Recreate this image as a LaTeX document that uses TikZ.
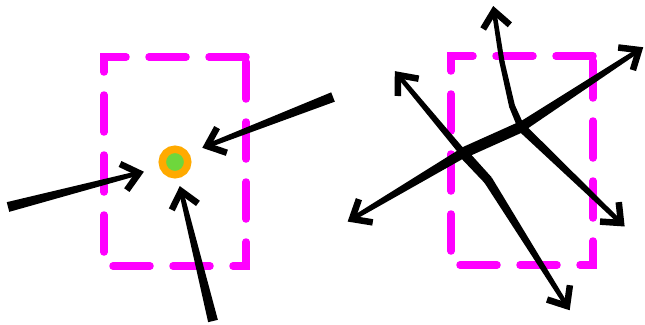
\documentclass[tikz,border=0pt]{standalone}
\usetikzlibrary{calc}
\definecolor{mag}{RGB}{255,0,255}
\definecolor{ringorange}{RGB}{255,170,0}
\definecolor{dotgreen}{RGB}{110,215,60}
\tikzset{
  framebox/.style={draw=mag, line width=7.5pt, line cap=round, line join=miter, dash pattern=on 37pt off 23pt},
  barbhead/.style={draw=black, line width=6.5pt, line join=miter, line cap=butt},
  shaft/.style={fill=black},
  target/.style={circle, draw=ringorange, fill=dotgreen, line width=7.5pt, minimum size=25.5pt, inner sep=0pt},
  hub/.style={fill=black},
}
\newcommand{\taperseg}[4]{\fill[shaft] ($(#1)!#3!90:(#2)$) -- ($(#2)!#4!-90:(#1)$) -- ($(#2)!#4!90:(#1)$) -- ($(#1)!#3!-90:(#2)$) -- cycle;}
\newcommand{\barbtip}[2]{\draw[barbhead] ($(#1)!21pt!40:(#2)$) -- (#1) -- ($(#1)!21pt!-40:(#2)$);}
\begin{document}
\begin{tikzpicture}[x=1pt,y=-1pt]
\useasboundingbox (0,0) rectangle (645,324);
% left panel
\draw[framebox] (246,57) -- (104,57) -- (104,266) -- (246,266) -- cycle;
\node[target] (dot) at (175,162) {};
\coordinate (l1t) at (8,207);
\coordinate (l1h) at (139,173);
\coordinate (l2t) at (333,97);
\coordinate (l2h) at (207,146);
\coordinate (l3t) at (213,321);
\coordinate (l3h) at (181,191);
\taperseg{l1t}{l1h}{5pt}{2.2pt}
\barbtip{l1h}{l1t}
\taperseg{l2t}{l2h}{5pt}{2.2pt}
\barbtip{l2h}{l2t}
\taperseg{l3t}{l3h}{5pt}{2.2pt}
\barbtip{l3h}{l3t}
% right panel
\draw[framebox] (593,56) -- (451,56) -- (451,265) -- (593,265) -- cycle;
\coordinate (A) at (463,153);
\coordinate (B) at (521,127);
\coordinate (ul) at (398,75);
\coordinate (ll) at (352,219);
\coordinate (D) at (488,180);
\coordinate (bt) at (567,306);
\coordinate (ur) at (639,50);
\coordinate (lr) at (621,223);
\coordinate (C1) at (512,106);
\coordinate (C2) at (502,62);
\coordinate (up) at (494,11);
\taperseg{A}{B}{5.5pt}{5.5pt}
\taperseg{A}{ll}{5pt}{2.2pt}
\taperseg{A}{ul}{3.5pt}{2.2pt}
\taperseg{A}{D}{5pt}{4.5pt}
\taperseg{D}{bt}{4.5pt}{2.2pt}
\taperseg{B}{ur}{5pt}{2.2pt}
\taperseg{B}{lr}{4.5pt}{2.2pt}
\taperseg{B}{C1}{3.5pt}{3pt}
\taperseg{C1}{C2}{3pt}{2.6pt}
\taperseg{C2}{up}{2.6pt}{2.2pt}
\fill[hub] (A) circle (5pt);
\fill[hub] (B) circle (5pt);
\fill[hub] (D) circle (4.5pt);
\fill[hub] (C1) circle (3pt);
\fill[hub] (C2) circle (2.6pt);
\barbtip{ul}{A}
\barbtip{ll}{A}
\barbtip{bt}{D}
\barbtip{ur}{B}
\barbtip{lr}{B}
\barbtip{up}{C2}
\end{tikzpicture}
\end{document}
